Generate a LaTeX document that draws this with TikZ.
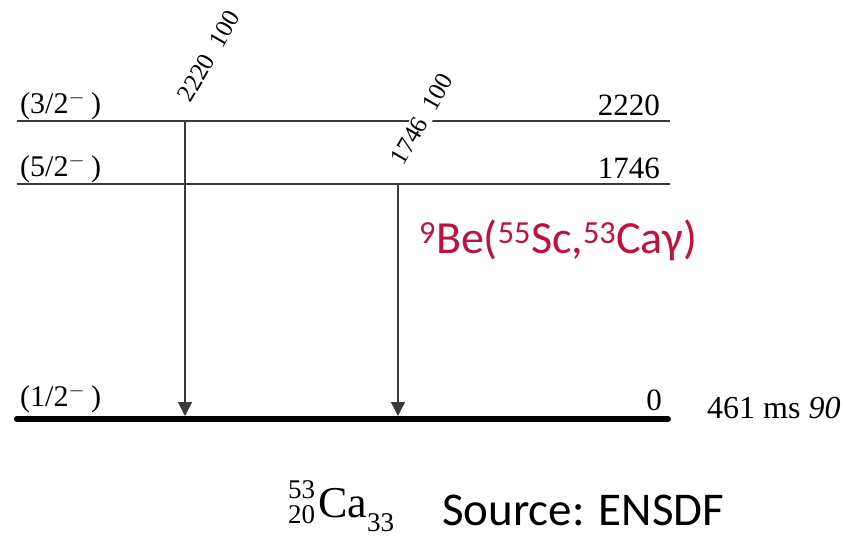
\documentclass[tikz,border=0pt]{standalone}
\usepackage{fontspec}
\setmainfont{Liberation Serif}
\newfontfamily\calfont{Carlito}
\usetikzlibrary{arrows.meta}
\definecolor{levelgrey}{HTML}{3A3A3A}
\definecolor{reactred}{HTML}{C0103C}
\tikzset{
  level/.style={draw=levelgrey, line width=1.5pt},
  ground/.style={draw=black, line width=6pt, line cap=round},
  gamma/.style={draw=levelgrey, line width=1.4pt, -{Triangle[width=14pt,length=14pt]}},
  spin/.style={anchor=base west, inner sep=0pt, font=\fontsize{30}{33}\selectfont},
  energy/.style={anchor=base east, inner sep=0pt, font=\fontsize{31}{34}\selectfont},
  glabel/.style={anchor=base west, rotate=60, inner sep=1.5pt, fill=white, font=\fontsize{25}{28}\selectfont},
}
\begin{document}
\begin{tikzpicture}[x=1pt,y=-1pt]
\useasboundingbox (0,0) rectangle (846,539);

% level lines
\coordinate (l3a) at (17,121);  \coordinate (l3b) at (670,121);
\coordinate (l5a) at (17,184);  \coordinate (l5b) at (670,184);
\coordinate (g0a) at (17,419);  \coordinate (g0b) at (668,419);
\draw[level] (l3a) -- (l3b);
\draw[level] (l5a) -- (l5b);
\draw[ground] (g0a) -- (g0b);

% gamma transitions
\coordinate (t1s) at (185,121); \coordinate (t1e) at (185,416);
\coordinate (t2s) at (398,184); \coordinate (t2e) at (398,416);
\draw[gamma] (t1s) -- (t1e);
\draw[gamma] (t2s) -- (t2e);

% gamma labels
\node[glabel] (g1) at (190,105) {2220\hspace{0.5em}100};
\node[glabel] (g2) at (403,168) {1746\hspace{0.5em}100};

% spins and energies
\node[spin] (s3) at (20,113) {(3/2$^{-}$\kern6pt)};
\node[spin] (s5) at (20,176) {(5/2$^{-}$\kern6pt)};
\node[spin] (s1) at (20,406) {(1/2$^{-}$\kern6pt)};
\node[energy] (e3) at (660,115) {2220};
\node[energy] (e5) at (660,178) {1746};
\node[energy] (e0) at (662,410) {0};
\node[anchor=base west, inner sep=0pt, font=\fontsize{32}{34}\selectfont] (hl) at (707,418) {461 ms \textit{90}};

% reaction
\node[anchor=base west, inner sep=0pt, text=reactred, font=\calfont\fontsize{46}{50}\selectfont] (rx) at (419,253)
  {\textsuperscript{9}Be(\textsuperscript{55}Sc,\textsuperscript{53}Caγ)};

% nucleus and source
\node[anchor=base west, inner sep=0pt] (nuc) at (288,517)
  {\fontsize{27}{30}\selectfont\raisebox{19pt}{53}\llap{\raisebox{-6pt}{20}}\kern3pt%
   \fontsize{44}{48}\selectfont Ca\fontsize{27}{30}\selectfont\raisebox{-14pt}{33}};
\node[anchor=base west, inner sep=0pt, font=\calfont\fontsize{47}{50}\selectfont] (src) at (442,525) {Source: ENSDF};
\end{tikzpicture}
\end{document}
